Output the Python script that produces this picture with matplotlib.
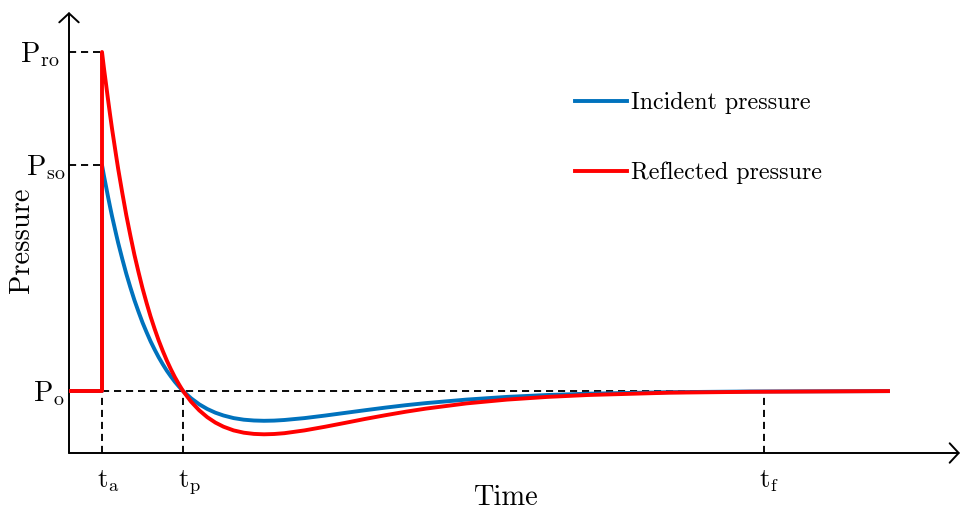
import matplotlib
matplotlib.use("Agg")
import matplotlib.pyplot as plt

plt.rcParams["mathtext.fontset"] = "cm"
plt.rcParams["font.family"] = "cmr10"
plt.rcParams["axes.unicode_minus"] = False

# characteristic times and pressure levels of the blast wave
t_a, t_p, t_f = 3.3, 11.4, 69.5
P_o, P_so, P_ro = 6.2, 28.8, 40.1

# sampled time axis (step at arrival time t_a)
time = [0.0, 3.3,
        3.3, 3.50, 3.71, 3.91, 4.11, 4.31, 4.52, 4.72, 4.92, 5.33, 5.73,
        6.14, 6.54, 6.95, 7.35, 7.76, 8.16, 8.57, 8.97, 9.38, 9.78, 10.19,
        10.59, 11.0, 11.4, 12.21, 13.02, 13.83, 14.64, 15.45, 16.46, 17.48,
        18.49, 19.5, 20.51, 21.53, 23.55, 25.58, 27.6, 29.63, 31.65, 33.68,
        35.7, 39.75, 43.8, 47.85, 51.9, 60.0, 68.1, 81.9]

incident = [6.2, 6.2,
            28.80, 27.69, 26.62, 25.59, 24.60, 23.65, 22.73, 21.85, 21.00,
            19.40, 17.92, 16.55, 15.29, 14.13, 13.05, 12.07, 11.16, 10.33,
            9.57, 8.87, 8.23, 7.65, 7.12, 6.64, 6.20, 5.47, 4.87, 4.40, 4.03,
            3.75, 3.49, 3.33, 3.25, 3.22, 3.24, 3.30, 3.49, 3.74, 4.01, 4.28,
            4.54, 4.78, 4.99, 5.34, 5.61, 5.80, 5.93, 6.08, 6.15, 6.19]

reflected = [6.2, 6.2,
             40.10, 38.44, 36.84, 35.29, 33.81, 32.38, 31.00, 29.68, 28.40,
             26.00, 23.78, 21.73, 19.83, 18.09, 16.48, 15.00, 13.64, 12.39,
             11.25, 10.20, 9.25, 8.37, 7.58, 6.86, 6.20, 5.13, 4.27, 3.58,
             3.04, 2.63, 2.26, 2.03, 1.91, 1.87, 1.90, 1.98, 2.26, 2.62, 3.01,
             3.41, 3.78, 4.13, 4.44, 4.96, 5.34, 5.61, 5.80, 6.03, 6.12, 6.19]

x_ticks = [t_a, t_p, t_f]
x_labels = [r"$\mathrm{t_a}$", r"$\mathrm{t_p}$", r"$\mathrm{t_f}$"]
y_ticks = [P_ro, P_so, P_o]
y_labels = [r"$\mathrm{P_{ro}}$", r"$\mathrm{P_{so}}$", r"$\mathrm{P_o}$"]
y_label_pad = [-6.5, -2.5, -2.5]

BLUE = "#0072BD"
RED = "#FF0000"

fig = plt.figure(figsize=(9.61, 5.11), dpi=100)
ax = fig.add_axes([69 / 961, 58 / 511, 891 / 961, 441 / 511])
ax.set_xlim(0, 89.1)
ax.set_ylim(0, 44.1)
ax.axis("off")

# axes drawn as open arrows
arrow = dict(arrowstyle="->,head_length=0.65,head_width=0.7", lw=1.4,
             color="black", shrinkA=0, shrinkB=0, mutation_scale=10)
ax.annotate("", xy=(1, 0), xytext=(0, 0), xycoords="axes fraction",
            textcoords="axes fraction", arrowprops=arrow, annotation_clip=False)
ax.annotate("", xy=(0, 1), xytext=(0, 0), xycoords="axes fraction",
            textcoords="axes fraction", arrowprops=arrow, annotation_clip=False)

dash = dict(color="black", lw=1.35, dashes=(3.8, 2.6), zorder=1)
ax.plot([0, t_a], [P_ro, P_ro], **dash)
ax.plot([0, t_a], [P_so, P_so], **dash)
ax.plot([t_a, t_f], [P_o, P_o], **dash)
for t in x_ticks:
    ax.plot([t, t], [0, P_o], **dash)

ax.plot(time, incident, color=BLUE, lw=2.8, label="Incident pressure", zorder=3)
ax.plot(time, reflected, color=RED, lw=2.8, label="Reflected pressure", zorder=4)

for t, lab in zip(x_ticks, x_labels):
    ax.annotate(lab, xy=(t, 0), xytext=(-3.7, -25), textcoords="offset points",
                ha="left", va="baseline", fontsize=19)
for p, lab, pad in zip(y_ticks, y_labels, y_label_pad):
    ax.annotate(lab, xy=(0, p), xytext=(pad, -7.2), textcoords="offset points",
                ha="right", va="baseline", fontsize=20.5)

fig.text(505 / 961, 6 / 511, "Time", ha="center", va="baseline", fontsize=20.5)
fig.text(22 / 961, 271 / 511, "Pressure", ha="center", va="center",
         rotation=90, fontsize=20.5)

ax.legend(loc="upper left", bbox_to_anchor=(575 / 961, 1 - 92 / 511),
          bbox_transform=fig.transFigure, frameon=False, fontsize=17.3,
          handlelength=2.15, handletextpad=0.2, labelspacing=1.97,
          borderpad=0, borderaxespad=0)

fig.savefig("out.png", dpi=100)
